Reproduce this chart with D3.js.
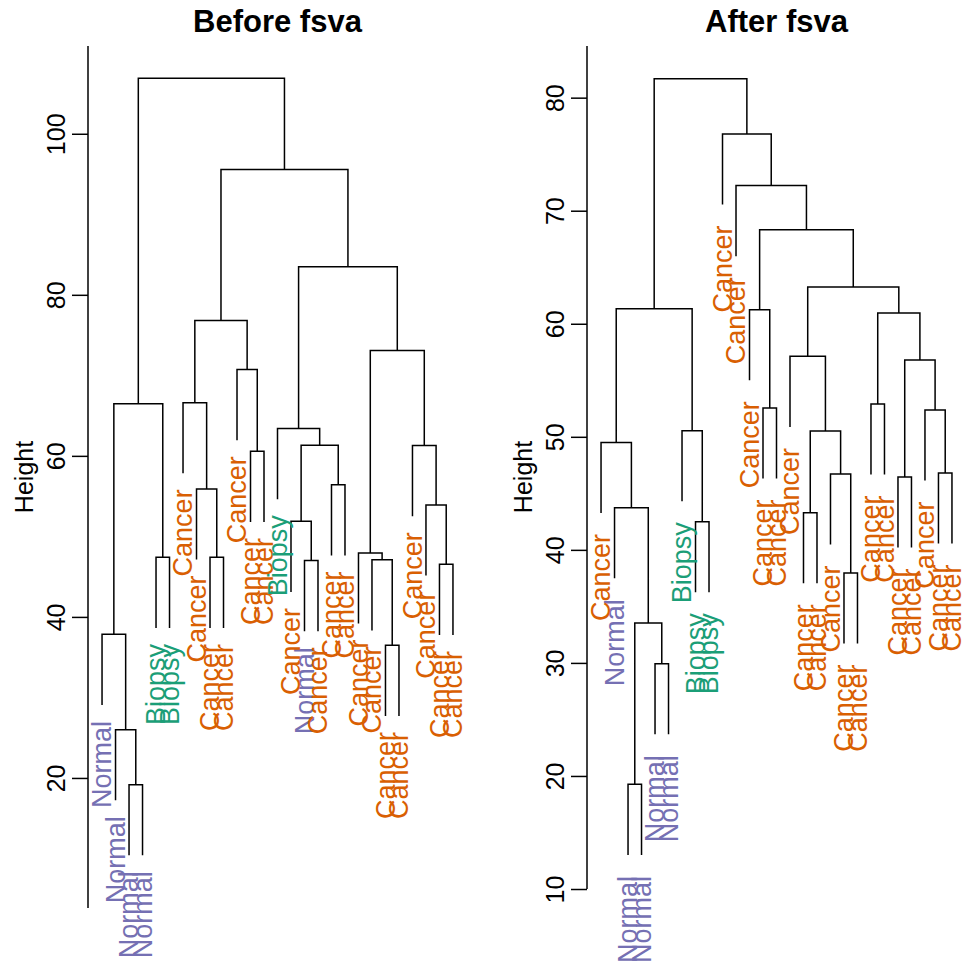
<!DOCTYPE html>
<html lang="en">
<head>
<meta charset="UTF-8">
<title>Before / After fsva</title>
<style>
  body { margin: 0; background: #fff; }
  svg { display: block; font-family: "Liberation Sans", Arial, Helvetica, sans-serif; }
</style>
</head>
<body>
<svg id="chart" width="963" height="968"></svg>
<script src="https://cdn.jsdelivr.net/npm/d3@7/dist/d3.min.js"></script>
<script>
// group colours
const groupNames = ["Normal", "Biopsy", "Cancer"];
const groupColors = ["#7570B3", "#1B9E77", "#D95F02"];

// ---- Before fsva: leaves in plotted order, merges (hclust style), heights
const beforeLabels = ["Normal", "Normal", "Normal", "Normal", "Biopsy", "Biopsy",
  "Cancer", "Cancer", "Cancer", "Cancer", "Cancer", "Cancer", "Cancer", "Biopsy",
  "Cancer", "Normal", "Cancer", "Cancer", "Cancer", "Cancer", "Cancer", "Cancer",
  "Cancer", "Cancer", "Cancer", "Cancer", "Cancer"];
const beforeMerge = [
  [-3, -4], [-2, 1], [-22, -23], [-1, 2], [-26, -27], [-16, -17], [-21, 3],
  [-5, -6], [-9, -10], [-20, 7], [-15, 6], [-25, 5], [-8, 9], [-18, -19],
  [-12, -13], [-24, 12], [11, 14], [-14, 17], [4, 8], [-7, 13], [-11, 15],
  [10, 16], [20, 21], [18, 22], [23, 24], [19, 25]
];
const beforeHeight = [19.17, 26.0, 36.47, 37.84, 46.53, 47.0, 47.1, 47.4, 47.4,
  47.95, 51.88, 53.9, 55.9, 56.4, 60.57, 61.28, 61.32, 63.39, 66.46, 66.6,
  70.72, 73.08, 76.8, 83.48, 95.55, 106.9];
const beforeTicks = [20, 40, 60, 80, 100];

// ---- After fsva
const afterLabels = ["Cancer", "Normal", "Normal", "Normal", "Normal", "Normal",
  "Biopsy", "Biopsy", "Biopsy", "Cancer", "Cancer", "Cancer", "Cancer", "Cancer",
  "Cancer", "Cancer", "Cancer", "Cancer", "Cancer", "Cancer", "Cancer", "Cancer",
  "Cancer", "Cancer", "Cancer", "Cancer", "Cancer"];
const afterMerge = [
  [-3, -4], [-5, -6], [1, 2], [-19, -20], [-8, -9], [-16, -17], [-2, 3],
  [-23, -24], [-18, 4], [-26, -27], [-1, 7], [6, 9], [-7, 5], [-25, 10],
  [-13, -14], [-21, -22], [8, 14], [-15, 12], [16, 17], [-12, 15], [11, 13],
  [18, 19], [20, 22], [-11, 23], [-10, 24], [21, 25]
];
const afterHeight = [19.26, 29.93, 33.53, 37.95, 42.49, 43.29, 43.73, 46.45,
  46.71, 46.8, 49.5, 50.51, 50.54, 52.37, 52.55, 52.9, 56.8, 57.12, 60.95,
  61.25, 61.33, 63.25, 68.32, 72.22, 76.79, 81.68];
const afterTicks = [10, 20, 30, 40, 50, 60, 70, 80];

const svg = d3.select("#chart");
const color = d3.scaleOrdinal().domain(groupNames).range(groupColors);

function drawDendrogram(cfg) {
  const { labels, merge, heights, ticks } = cfg;
  const n = labels.length;
  const g = svg.append("g");

  // R-style 4% padding on the leaf axis
  const pad = 0.04 * (n - 1);
  const x = d3.scaleLinear().domain([1 - pad, n + pad]).range([cfg.left, cfg.right]);
  const y = d3.scaleLinear().domain(cfg.yDomain).range([908, 46]);

  const hang = 0.1 * (d3.max(heights) - d3.min(heights));
  const nodeX = [];
  const leaves = [];

  merge.forEach((pair, i) => {
    const h = heights[i];
    const ends = pair.map(c => {
      if (c < 0) {
        const leaf = { idx: -c, x: x(-c), bottom: h - hang };
        leaves.push(leaf);
        return { x: leaf.x, y: y(leaf.bottom) };
      }
      return { x: nodeX[c - 1], y: y(heights[c - 1]) };
    });
    nodeX[i] = (ends[0].x + ends[1].x) / 2;
    g.append("path")
      .attr("d", `M${ends[0].x},${ends[0].y}V${y(h)}H${ends[1].x}V${ends[1].y}`)
      .attr("fill", "none")
      .attr("stroke", "#000")
      .attr("stroke-width", 1.5);
  });

  // leaf labels
  g.selectAll("text.leaf")
    .data(leaves)
    .join("text")
    .attr("class", "leaf")
    .attr("transform", d => `translate(${d.x},${y(d.bottom) + cfg.labelGap}) rotate(-90)`)
    .attr("text-anchor", "end")
    .attr("dy", "0.35em")
    .attr("font-size", 27)
    .attr("fill", d => color(labels[d.idx - 1]))
    .text(d => labels[d.idx - 1]);

  // y axis
  const axis = g.append("g").attr("transform", `translate(${cfg.left},0)`);
  axis.append("line")
    .attr("x1", 0).attr("x2", 0)
    .attr("y1", y(cfg.axisLine[0])).attr("y2", y(cfg.axisLine[1]))
    .attr("stroke", "#000").attr("stroke-width", 1.5);
  axis.call(d3.axisLeft(y).tickValues(ticks).tickSize(16).tickSizeOuter(0))
    .call(a => a.select(".domain").remove())
    .call(a => a.selectAll(".tick line").attr("stroke-width", 1.5))
    .call(a => a.selectAll(".tick text")
      .attr("x", null).attr("dy", null)
      .attr("transform", "translate(-23,0) rotate(-90)")
      .attr("text-anchor", "middle")
      .attr("font-size", 25)
      .attr("font-family", null)
      .attr("fill", "#000"));
  axis.attr("font-family", null).attr("font-size", null);

  g.append("text")
    .attr("transform", `translate(${cfg.left - 55},${(908 + 46) / 2}) rotate(-90)`)
    .attr("text-anchor", "middle")
    .attr("font-size", 25)
    .text("Height");

  g.append("text")
    .attr("x", (cfg.left + cfg.right) / 2)
    .attr("y", 31.7)
    .attr("text-anchor", "middle")
    .attr("font-size", 31)
    .attr("font-weight", "bold")
    .text(cfg.title);
}

drawDendrogram({
  title: "Before fsva", labels: beforeLabels, merge: beforeMerge,
  heights: beforeHeight, ticks: beforeTicks,
  left: 88, right: 467, yDomain: [3.85, 110.9], axisLine: [3.85, 110.9], labelGap: 16
});

drawDendrogram({
  title: "After fsva", labels: afterLabels, merge: afterMerge,
  heights: afterHeight, ticks: afterTicks,
  left: 587, right: 966, yDomain: [8.32, 84.57], axisLine: [10, 84.57], labelGap: 21
});
</script>
</body>
</html>
